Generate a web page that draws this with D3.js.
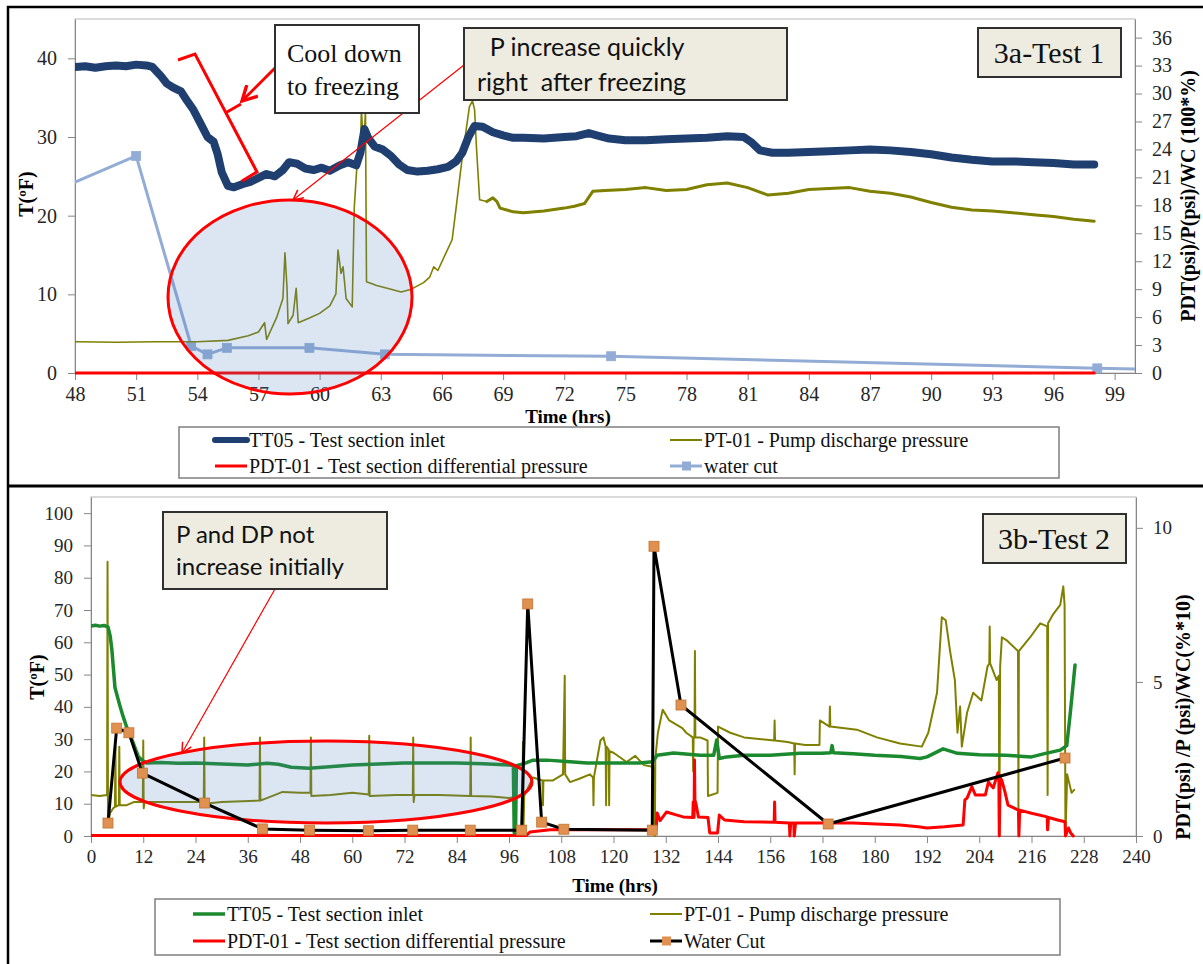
<!DOCTYPE html>
<html>
<head>
<meta charset="utf-8">
<script src="https://cdn.jsdelivr.net/npm/d3@7"></script>
<style>
  html, body { margin: 0; padding: 0; background: #fff; }
  svg { display: block; }
</style>
</head>
<body>
<div id="chart"></div>
<script>
/* Freezing tests - two stacked panels (3a Test 1, 3b Test 2) */

// ---------- Test 1 data: [time (hrs), value] ----------
// TT05 in degF (left axis)
const t1TT05 = [
  [48, 38.9], [48.5, 39.0], [49, 38.8], [49.5, 39.0], [50, 39.1], [50.5, 39.0], [51, 39.2], [51.5, 39.1],
  [51.8, 38.9], [52.2, 37.8], [52.5, 36.8], [52.8, 36.3], [53.2, 35.8], [53.5, 34.6], [53.8, 33.5],
  [54.2, 31.5], [54.5, 30.0], [54.8, 29.4], [55.0, 27.8], [55.2, 25.5], [55.5, 23.8], [55.8, 23.6],
  [56.2, 24.0], [56.6, 24.3], [57.0, 24.8], [57.4, 25.3], [57.8, 25.0], [58.2, 25.8], [58.5, 26.8],
  [58.9, 26.6], [59.3, 26.0], [59.7, 25.8], [60.1, 26.1], [60.5, 25.7], [61.0, 26.4], [61.4, 26.8],
  [61.8, 26.4], [62.0, 28.0], [62.2, 31.0], [62.4, 29.8], [62.7, 28.8], [63.1, 28.4], [63.5, 27.6],
  [63.9, 26.5], [64.3, 25.8], [64.8, 25.6], [65.3, 25.7], [65.8, 25.9], [66.3, 26.2], [66.7, 26.9],
  [67.0, 28.0], [67.3, 30.0], [67.6, 31.4], [68.0, 31.3], [68.5, 30.6], [69.0, 30.2], [69.5, 29.9],
  [70, 29.9], [71, 29.8], [72, 30.0], [72.6, 30.1], [73.2, 30.5], [73.6, 30.2], [74.2, 29.8], [75, 29.6],
  [76, 29.6], [77, 29.7], [78, 29.8], [79, 29.9], [80, 30.1], [80.8, 30.0], [81.2, 29.3], [81.6, 28.3],
  [82.2, 28.0], [83, 28.0], [84, 28.1], [85, 28.2], [86, 28.3], [87, 28.4], [88, 28.3], [89, 28.1],
  [90, 27.8], [91, 27.4], [92, 27.1], [93, 26.9], [94, 26.9], [95, 26.8], [96, 26.7], [97, 26.5], [98, 26.5]
];
// PT-01 in psi (right axis)
const t1PT = [
  [48, 3.35], [50, 3.3], [52, 3.35], [54, 3.35], [55.5, 3.5], [56.5, 4.0], [57.0, 4.4], [57.3, 5.4],
  [57.4, 3.6], [57.9, 6.0], [58.2, 8.0], [58.3, 12.9], [58.4, 9.2], [58.45, 5.3], [58.7, 6.2],
  [58.85, 9.1], [58.95, 5.4], [59.5, 5.9], [60.0, 6.4], [60.5, 7.2], [60.8, 8.5], [60.9, 13.2],
  [61.05, 10.7], [61.15, 11.4], [61.3, 8.0], [61.6, 7.1], [61.7, 17.8], [61.85, 22.9], [62.0, 23.6],
  [62.05, 28.3], [62.15, 24.0], [62.25, 28.0], [62.3, 9.8], [62.8, 9.4], [63.5, 9.0], [64.0, 8.7],
  [64.5, 9.0], [65.1, 9.7], [65.4, 10.3], [65.6, 11.4], [65.8, 11.0], [66.2, 12.9], [66.5, 14.3],
  [66.7, 17.8], [67.0, 23.2], [67.35, 28.6], [67.5, 29.2], [67.6, 28.3], [67.7, 24.0], [67.85, 18.6],
  [68.2, 18.4], [68.5, 18.8], [68.7, 18.4], [68.85, 17.7], [69.5, 17.3], [70, 17.2], [71, 17.4],
  [72, 17.7], [72.5, 17.9], [73, 18.2], [73.4, 19.5], [74, 19.6], [75, 19.7], [76, 19.9], [77, 19.6],
  [78, 19.7], [79, 20.2], [80, 20.4], [81, 19.9], [82, 19.1], [83, 19.3], [84, 19.7], [85, 19.8],
  [86, 19.9], [87, 19.5], [88, 19.3], [89, 18.9], [90, 18.3], [91, 17.8], [92, 17.5], [93, 17.4],
  [94, 17.2], [95, 17.0], [96, 16.8], [97, 16.5], [98, 16.3]
];
// PDT-01 in psi (right axis)
const t1PDT = [[48, 0], [98, 0]];
// water cut, 100*% (right axis); first and last points lie outside the view
const t1WC = [
  [45, 17.7], [51, 23.3], [53.7, 2.9], [54.5, 2.0], [55.45, 2.7], [59.5, 2.7], [63.2, 2.0],
  [74.3, 1.8], [98.15, 0.5], [102, 0.35]
];
const t1XTicks = d3.range(48, 100, 3);
const t1YLTicks = [0, 10, 20, 30, 40];
const t1YRTicks = d3.range(0, 37, 3);

// ---------- Test 2 data ----------
// TT05 in degF (left axis)
const t2TT05 = [
  [0, 65], [1, 65.3], [2, 65], [3, 65.2], [3.9, 64.8], [4.4, 62], [4.8, 57.6], [5.5, 46], [6.7, 40],
  [7.5, 36.5], [8.2, 33.7], [9.7, 28.8], [10.9, 24.5], [12.0, 23.2], [12.8, 22.6], [16, 22.8],
  [20, 22.5], [24, 22.6], [30, 22.3], [36, 22.0], [40.4, 22.5], [43, 22.2], [46, 21.3], [50, 21.0],
  [54, 21.4], [60, 22.0], [66, 22.3], [71.7, 22.6], [78, 22.6], [84, 22.6], [90, 22.4], [96.2, 22.0],
  [97.0, 21.8], [97.2, 1.0], [97.5, 1.0], [97.7, 21.8], [99, 22.2], [101.5, 23.5], [104.7, 23.5],
  [110, 23.0], [113.9, 22.6], [120, 22.6], [126, 22.6], [129, 23.0], [130, 25.0], [133.8, 25.7],
  [139.9, 25.0], [143.0, 25.0], [143.7, 29.7], [144.3, 24.0], [146, 24.5], [150, 25.0], [156, 25.0],
  [162.8, 25.6], [167.9, 25.6], [169.9, 25.8], [170.2, 28.0], [170.5, 25.8], [175, 25.5], [180, 25.0],
  [186, 24.6], [190.4, 24.0], [192, 24.5], [195.7, 27.0], [199, 25.6], [204, 25.2], [210, 25.0],
  [216, 24.5], [219, 25.5], [222.6, 26.6], [224.1, 28.0], [224.9, 38.0], [226, 53.0]
];
// PT-01 in psi (right axis)
const t2PT = [
  [0, 1.33], [2, 1.3], [3.7, 1.33], [3.8, 8.9], [3.9, 0.42], [4.4, 0.75], [5.1, 0.9], [5.5, 0.95],
  [5.6, 2.9], [5.7, 0.95], [6.4, 1.0], [6.5, 2.9], [6.6, 1.0], [8.2, 1.0], [9.8, 1.1], [11.9, 1.1],
  [12.0, 3.1], [12.1, 0.9], [12.3, 1.1], [18, 1.1], [25.9, 1.1], [26.0, 3.2], [26.1, 1.05], [30, 1.1],
  [38.7, 1.15], [38.8, 3.2], [38.9, 1.15], [40.4, 1.23], [44, 1.43], [48, 1.4], [50.4, 1.4],
  [50.5, 3.2], [50.6, 1.3], [55, 1.33], [60, 1.4], [63.8, 1.35], [63.9, 3.25], [64.0, 1.3], [70, 1.33],
  [73.9, 1.33], [74.0, 3.2], [74.1, 1.1], [74.3, 1.33], [80, 1.33], [87.1, 1.3], [87.2, 3.2],
  [87.3, 1.3], [92, 1.28], [96, 1.23], [99.1, 1.3], [99.2, 3.05], [99.3, 0.1], [99.5, 1.3],
  [101.5, 1.9], [103.7, 1.8], [103.8, 1.0], [103.9, 1.8], [106, 1.8], [108.4, 2.0], [108.8, 5.2],
  [108.9, 2.0], [110, 1.75], [112, 1.85], [114.6, 2.0], [115.3, 1.9], [115.4, 1.0], [115.5, 1.9],
  [117, 3.1], [117.7, 3.2], [118.2, 2.9], [118.3, 1.0], [118.4, 2.9], [118.9, 2.8], [119.0, 1.0],
  [119.1, 2.75], [120, 2.7], [123, 2.4], [125, 2.6], [127, 2.3], [129, 2.25], [129.4, 2.25],
  [129.5, 0.0], [129.6, 2.5], [130.2, 3.35], [131.3, 4.1], [132.8, 3.75], [135.8, 3.5], [136.7, 3.35],
  [138.2, 3.2], [138.3, 2.1], [138.4, 3.2], [138.6, 3.2], [138.7, 6.0], [138.8, 3.2], [139.9, 3.2],
  [141.6, 3.1], [141.7, 1.3], [143.9, 1.4], [144.0, 3.55], [146.8, 3.35], [150, 3.2], [156.9, 3.1],
  [157.0, 3.75], [157.1, 3.1], [160, 3.05], [161.5, 3.0], [161.6, 2.0], [161.7, 3.0], [164, 2.95],
  [167.3, 2.95], [167.4, 3.75], [169.6, 3.55], [169.7, 4.2], [169.8, 3.55], [175.9, 3.45],
  [180.5, 3.2], [185.8, 3.0], [190.8, 2.9], [192.3, 3.35], [194.3, 4.65], [195.4, 7.1], [196.3, 7.0],
  [197.3, 6.0], [198.4, 5.06], [199.0, 3.35], [199.6, 4.2], [200, 2.9], [201.2, 4.0], [202.6, 4.65],
  [204.5, 4.4], [205.9, 5.5], [206.3, 5.6], [206.4, 6.8], [206.5, 5.6], [208, 5.06], [208.5, 5.2],
  [208.6, 0.0], [208.8, 5.5], [209.2, 6.45], [210.3, 6.35], [212.9, 6.0], [213.0, 0.9], [213.1, 6.0],
  [215.7, 6.45], [218, 6.9], [219.6, 6.8], [219.7, 1.33], [219.8, 6.9], [221, 7.2], [222.6, 7.5],
  [223.3, 8.1], [223.6, 7.5], [223.8, 0.0], [224.2, 2.0], [225.2, 1.4], [225.8, 1.5]
];
// PDT-01 in psi (right axis)
const t2PDT = [
  [0, 0.02], [100, 0.02], [100.8, 0.13], [105.4, 0.2], [110, 0.2], [120, 0.2], [129.8, 0.2], [130, 0.75],
  [130.7, 0.5], [132.2, 0.78], [134, 0.7], [136, 0.62], [138.2, 0.6], [138.3, 1.1], [138.5, 0.6],
  [138.6, 2.47], [138.7, 1.17], [139.0, 1.0], [139.5, 0.62], [141.7, 0.6], [142.1, 0.1], [143.9, 0.1],
  [144.3, 0.68], [145.5, 0.52], [150, 0.46], [156.9, 0.45], [157.0, 1.1], [157.1, 0.45], [160.4, 0.42],
  [160.5, 0.0], [160.7, 0.42], [161.4, 0.42], [161.5, 0.0], [161.8, 0.42], [166, 0.42], [175, 0.42],
  [185.8, 0.36], [190, 0.3], [192, 0.26], [196, 0.3], [200.3, 0.36], [200.7, 1.17], [201.2, 1.23],
  [202.3, 1.6], [203.1, 1.33], [205.4, 1.33], [206.1, 1.75], [207.2, 1.56], [208.3, 2.05], [208.5, 1.9],
  [208.6, 0.0], [208.8, 1.9], [209.2, 1.8], [209.9, 1.43], [210.6, 1.0], [213.0, 0.84], [213.1, 0.0],
  [213.3, 0.84], [216, 0.74], [219.6, 0.62], [219.7, 0.2], [219.9, 0.6], [222, 0.52], [223.7, 0.46],
  [223.8, 0.0], [224.5, 0.26], [225, 0.1], [225.6, 0.0]
];
// water cut, %*10 (right axis)
const t2WC = [
  [3.9, 0.42], [5.9, 3.5], [8.7, 3.35], [11.8, 2.04], [26.1, 1.07], [39.4, 0.23], [50.2, 0.19],
  [63.7, 0.17], [73.9, 0.19], [87.1, 0.19], [98.9, 0.19], [100.3, 7.53], [103.5, 0.45], [108.6, 0.22],
  [128.9, 0.19], [129.3, 9.4], [135.5, 4.25], [169.3, 0.39], [223.7, 2.53]
];
const t2XTicks = d3.range(0, 241, 12);
const t2YLTicks = d3.range(0, 101, 10);
const t2YRTicks = [0, 5, 10];

// ---------- styles ----------
const SERIF = '"Liberation Serif", "Times New Roman", serif';
const SANS = 'Lato, "Open Sans", sans-serif';
const C = {
  navy: '#1f3f70', wcBlue: '#93acd6', olive: '#808000', red: '#ff0000',
  green: '#1b8a2e', orange: '#e0904f', axis: '#868686', boxFill: '#eeece1'
};

const svg = d3.select('#chart').append('svg')
  .attr('width', 1203).attr('height', 964)
  .style('background', '#fff');

const defs = svg.append('defs');
defs.append('marker')
  .attr('id', 'arrow')
  .attr('viewBox', '0 0 12 12')
  .attr('refX', 11).attr('refY', 6)
  .attr('markerWidth', 12).attr('markerHeight', 12)
  .attr('markerUnits', 'userSpaceOnUse')
  .attr('orient', 'auto')
  .append('path')
  .attr('d', 'M1,1 L11,6 L1,11')
  .attr('fill', 'none').attr('stroke', C.red).attr('stroke-width', 1.5);
defs.append('marker')
  .attr('id', 'arrowBig')
  .attr('viewBox', '0 0 16 16')
  .attr('refX', 14).attr('refY', 8)
  .attr('markerWidth', 18).attr('markerHeight', 18)
  .attr('markerUnits', 'userSpaceOnUse')
  .attr('orient', 'auto')
  .append('path')
  .attr('d', 'M1,1 L14,8 L1,15')
  .attr('fill', 'none').attr('stroke', C.red).attr('stroke-width', 3);

function styleAxis(sel, fs) {
  sel.attr('font-family', SERIF).attr('font-size', fs);
  sel.select('.domain').attr('stroke', C.axis);
  sel.selectAll('.tick line').attr('stroke', C.axis);
  sel.selectAll('.tick text').attr('fill', '#262626');
}

// Axes, frame and titles for one panel
function drawFrame(p) {
  const [x0, x1] = p.x.range();
  const [yb, yt] = p.yL.range();
  const g = svg.append('g');

  g.append('rect')
    .attr('x', x0).attr('y', yt).attr('width', x1 - x0).attr('height', yb - yt)
    .attr('fill', 'none').attr('stroke', '#b8b8b8');

  const ax = g.append('g').attr('transform', `translate(0,${yb})`)
    .call(d3.axisBottom(p.x).tickValues(p.xTicks).tickSize(7).tickPadding(7).tickSizeOuter(0));
  styleAxis(ax, p.fs);

  const al = g.append('g').attr('transform', `translate(${x0},0)`)
    .call(d3.axisLeft(p.yL).tickValues(p.yLTicks).tickSize(7).tickPadding(11).tickSizeOuter(0));
  styleAxis(al, p.fs);

  const ar = g.append('g').attr('transform', `translate(${x1},0)`)
    .call(d3.axisRight(p.yR).tickValues(p.yRTicks).tickSize(7).tickPadding(10).tickSizeOuter(0));
  styleAxis(ar, p.fs);

  g.append('text')
    .attr('x', p.xTitle[0]).attr('y', p.xTitle[1])
    .attr('text-anchor', 'middle')
    .attr('font-family', SERIF).attr('font-size', 19).attr('font-weight', 'bold')
    .text('Time (hrs)');

  g.append('text')
    .attr('transform', `translate(${p.yLTitle[0]},${p.yLTitle[1]}) rotate(-90)`)
    .attr('text-anchor', 'middle').attr('dominant-baseline', 'central')
    .attr('font-family', SERIF).attr('font-size', 20).attr('font-weight', 'bold')
    .text('T(ºF)');

  g.append('text')
    .attr('transform', `translate(${p.yRTitle[0]},${p.yRTitle[1]}) rotate(-90)`)
    .attr('text-anchor', 'middle').attr('dominant-baseline', 'central')
    .attr('font-family', SERIF).attr('font-size', 20).attr('font-weight', 'bold')
    .text(p.yRText);

  defs.append('clipPath').attr('id', p.id + '-clip')
    .append('rect')
    .attr('x', x0).attr('y', yt - 4).attr('width', x1 - x0).attr('height', yb - yt + 9);
}

function drawLine(id, data, x, y, color, width) {
  const line = d3.line().x(d => x(d[0])).y(d => y(d[1]));
  svg.append('path')
    .datum(data)
    .attr('clip-path', `url(#${id}-clip)`)
    .attr('d', line)
    .attr('fill', 'none')
    .attr('stroke', color)
    .attr('stroke-width', width)
    .attr('stroke-linejoin', 'round')
    .attr('stroke-linecap', 'round');
}

function drawSquares(data, x, y, fill, stroke, size, domain) {
  svg.append('g').selectAll('rect')
    .data(data.filter(d => d[0] >= domain[0] && d[0] <= domain[1]))
    .join('rect')
    .attr('x', d => x(d[0]) - size / 2)
    .attr('y', d => y(d[1]) - size / 2)
    .attr('width', size).attr('height', size)
    .attr('fill', fill).attr('stroke', stroke).attr('stroke-width', 0.8);
}

function textBox(x, y, w, h, fill, lines, font, fs, anchor) {
  svg.append('rect')
    .attr('x', x).attr('y', y).attr('width', w).attr('height', h)
    .attr('fill', fill).attr('stroke', '#303030').attr('stroke-width', 2);
  lines.forEach(l => {
    svg.append('text')
      .attr('x', l[0]).attr('y', l[1])
      .attr('text-anchor', anchor || 'start')
      .attr('font-family', font).attr('font-size', fs)
      .attr('fill', '#111')
      .style('white-space', 'pre')
      .text(l[2]);
  });
}

function legend(box, rows, colX, items) {
  svg.append('rect')
    .attr('x', box[0]).attr('y', box[1]).attr('width', box[2]).attr('height', box[3])
    .attr('fill', '#fff').attr('stroke', '#7f7f7f').attr('stroke-width', 1.5);
  items.forEach((it, i) => {
    const cx = colX[i % 2], cy = rows[Math.floor(i / 2)];
    svg.append('line')
      .attr('x1', cx).attr('x2', cx + 32).attr('y1', cy).attr('y2', cy)
      .attr('stroke', it.color).attr('stroke-width', it.width)
      .attr('stroke-linecap', it.width > 4 ? 'round' : 'butt');
    if (it.marker) {
      svg.append('rect')
        .attr('x', cx + 12).attr('y', cy - 4.5).attr('width', 9).attr('height', 9)
        .attr('fill', it.marker);
    }
    svg.append('text')
      .attr('x', cx + 34).attr('y', cy)
      .attr('dominant-baseline', 'central')
      .attr('font-family', SERIF).attr('font-size', 20).attr('fill', '#111')
      .text(it.label);
  });
}

// ---------- panel frames (outer black borders) ----------
svg.append('path')
  .attr('d', 'M1203,7 H8 V964')
  .attr('fill', 'none').attr('stroke', '#000').attr('stroke-width', 2.5);
svg.append('line')
  .attr('x1', 8).attr('x2', 1203).attr('y1', 486).attr('y2', 486)
  .attr('stroke', '#000').attr('stroke-width', 3);

// ================= Panel 3a =================
const x1s = d3.scaleLinear().domain([48, 100]).range([75, 1135]);
const y1L = d3.scaleLinear().domain([0, 45]).range([373, 19]);
const y1R = d3.scaleLinear().domain([0, 38]).range([373, 19]);

drawFrame({
  id: 'p1', x: x1s, yL: y1L, yR: y1R,
  xTicks: t1XTicks, yLTicks: t1YLTicks, yRTicks: t1YRTicks, fs: 20,
  xTitle: [568, 423], yLTitle: [26, 194], yRTitle: [1188, 196],
  yRText: 'PDT(psi)/P(psi)/WC (100*%)'
});

drawLine('p1', t1WC, x1s, y1R, C.wcBlue, 3);
drawSquares(t1WC, x1s, y1R, C.wcBlue, C.wcBlue, 9, [48, 100]);
drawLine('p1', t1PT, x1s, y1R, C.olive, 1.6);
// the logged signal is noisier after the spike, so that stretch reads as a wider band
drawLine('p1', t1PT.filter(d => d[0] >= 68.2), x1s, y1R, C.olive, 3);
drawLine('p1', t1TT05, x1s, y1L, C.navy, 8);
drawLine('p1', t1PDT, x1s, y1R, C.red, 3);

// highlight ellipse
svg.append('ellipse')
  .attr('cx', 290).attr('cy', 297).attr('rx', 122).attr('ry', 97)
  .attr('fill', '#4f81bd').attr('fill-opacity', 0.2)
  .attr('stroke', C.red).attr('stroke-width', 3);

// bracket + arrow for "Cool down to freezing"
svg.append('path')
  .attr('d', 'M178,60 L195,54 L257,172 L242,181 M227,112 L241,104')
  .attr('fill', 'none').attr('stroke', C.red).attr('stroke-width', 3);
svg.append('line')
  .attr('x1', 275).attr('y1', 68).attr('x2', 242).attr('y2', 101)
  .attr('stroke', C.red).attr('stroke-width', 3)
  .attr('marker-end', 'url(#arrowBig)');
svg.append('line')
  .attr('x1', 464).attr('y1', 65).attr('x2', 293).attr('y2', 200)
  .attr('stroke', C.red).attr('stroke-width', 1.2)
  .attr('marker-end', 'url(#arrow)');

textBox(275, 25, 144, 88, '#fff',
  [[287, 62, 'Cool down'], [287, 95, 'to freezing']], SERIF, 26);
textBox(464, 28, 323, 72, C.boxFill,
  [[477, 56, '  P increase quickly'], [477, 91, 'right  after freezing']], SANS, 25);
textBox(978, 28, 143, 49, C.boxFill, [[1049, 63, '3a-Test 1']], SERIF, 30, 'middle');

legend([179, 427, 880, 51], [440, 466], [215, 670], [
  { label: 'TT05 - Test section inlet', color: C.navy, width: 6 },
  { label: 'PT-01 - Pump discharge pressure', color: C.olive, width: 2 },
  { label: 'PDT-01 - Test section differential pressure', color: C.red, width: 3 },
  { label: 'water cut', color: C.wcBlue, width: 3, marker: C.wcBlue }
]);

// ================= Panel 3b =================
const x2s = d3.scaleLinear().domain([0, 240]).range([91, 1136]);
const y2L = d3.scaleLinear().domain([0, 105]).range([836, 497]);
const y2R = d3.scaleLinear().domain([0, 11]).range([836, 497]);

drawFrame({
  id: 'p2', x: x2s, yL: y2L, yR: y2R,
  xTicks: t2XTicks, yLTicks: t2YLTicks, yRTicks: t2YRTicks, fs: 19,
  xTitle: [615, 892], yLTitle: [37, 677], yRTitle: [1183, 717],
  yRText: 'PDT(psi) /P (psi)/WC(%*10)'
});

drawLine('p2', t2PT, x2s, y2R, C.olive, 2);
drawLine('p2', t2PDT, x2s, y2R, C.red, 3);
drawLine('p2', t2TT05, x2s, y2L, C.green, 3.5);

svg.append('ellipse')
  .attr('cx', 326).attr('cy', 782).attr('rx', 206).attr('ry', 41)
  .attr('fill', '#4f81bd').attr('fill-opacity', 0.2)
  .attr('stroke', C.red).attr('stroke-width', 3);

drawLine('p2', t2WC, x2s, y2R, '#000', 3);
drawSquares(t2WC, x2s, y2R, C.orange, '#c27434', 10, [0, 240]);

svg.append('line')
  .attr('x1', 275).attr('y1', 589).attr('x2', 182).attr('y2', 753)
  .attr('stroke', C.red).attr('stroke-width', 1.2)
  .attr('marker-end', 'url(#arrow)');

textBox(163, 512, 224, 77, C.boxFill,
  [[176, 543, 'P and DP not'], [176, 575, 'increase initially']], SANS, 24);
textBox(983, 514, 143, 49, C.boxFill, [[1054, 549, '3b-Test 2']], SERIF, 30, 'middle');

legend([155, 899, 905, 56], [914, 941], [193, 650], [
  { label: 'TT05 - Test section inlet', color: C.green, width: 3.5 },
  { label: 'PT-01 - Pump discharge pressure', color: C.olive, width: 2 },
  { label: 'PDT-01 - Test section differential pressure', color: C.red, width: 3 },
  { label: 'Water Cut', color: '#000', width: 3, marker: C.orange }
]);
</script>
</body>
</html>
